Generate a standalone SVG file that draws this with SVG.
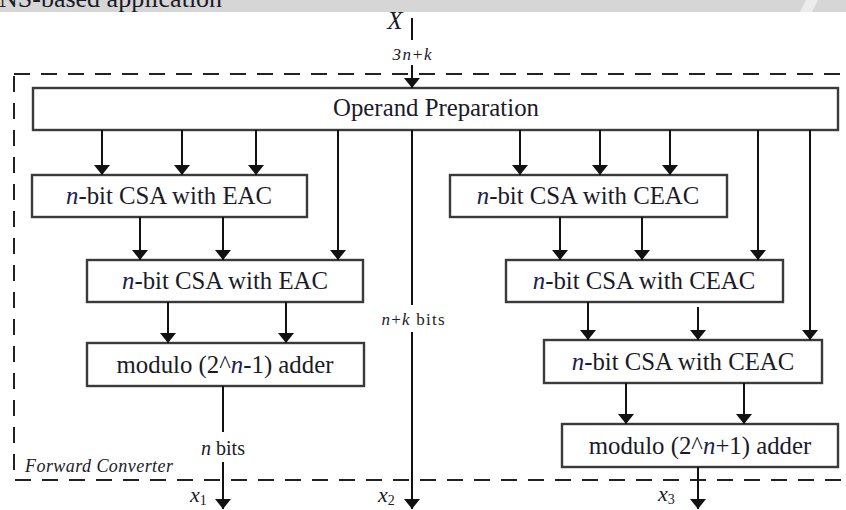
<svg xmlns="http://www.w3.org/2000/svg" width="846" height="510" viewBox="0 0 846 510" font-family="Liberation Serif, serif">
<style>
.box{fill:#fff;stroke:#3a3a3a;stroke-width:2.4}
.lbl{font-family:"Liberation Serif",serif;font-size:24.8px;fill:#1a1a28;text-anchor:middle}
.it{font-style:italic;fill:#202050}
.sm{font-family:"Liberation Serif",serif;fill:#1a1a28}
.ln{stroke:#111;stroke-width:2;fill:none}
.ar{stroke:#111;stroke-width:2;fill:none;marker-end:url(#ah)}
</style>
<defs>
<marker id="ah" viewBox="0 -8 10 16" refX="10" refY="0" markerWidth="10" markerHeight="16" markerUnits="userSpaceOnUse" orient="auto">
<path d="M0,-8 L10,0 L0,8 z" fill="#111"/>
</marker>
</defs>
<rect width="846" height="510" fill="#fff"/>
<g id="header">
<rect x="0" y="0" width="846" height="12" fill="#d6d6d6"/>
<polygon points="806,0 818,0 812,12 800,12" fill="#ececec"/>
<text x="-1" y="7" class="sm" font-size="26">NS-based application</text>
</g>
<g id="frame">
<rect x="14" y="74" width="845" height="406" fill="none" stroke="#222" stroke-width="2" stroke-dasharray="16 11"/>
<text x="25" y="472" class="sm" font-size="18" font-style="italic" textLength="148">Forward Converter</text>
</g>
<g id="op">
<rect class="box" x="33" y="88" width="805" height="42"/>
<text class="lbl" x="436" y="116">Operand Preparation</text>
</g>
<g id="csa1">
<rect class="box" x="32" y="175" width="275" height="42"/>
<text class="lbl" x="169" y="204"><tspan class="it">n</tspan>-bit CSA with EAC</text>
</g>
<g id="csa2">
<rect class="box" x="87" y="260" width="276" height="42"/>
<text class="lbl" x="225" y="289"><tspan class="it">n</tspan>-bit CSA with EAC</text>
</g>
<g id="mod1">
<rect class="box" x="87" y="343" width="277" height="43"/>
<text class="lbl" x="225" y="373">modulo (2^<tspan class="it">n</tspan>-1) adder</text>
</g>
<g id="csa3">
<rect class="box" x="450" y="175" width="277" height="42"/>
<text class="lbl" x="588" y="204"><tspan class="it">n</tspan>-bit CSA with CEAC</text>
</g>
<g id="csa4">
<rect class="box" x="506" y="260" width="277" height="42"/>
<text class="lbl" x="644" y="289"><tspan class="it">n</tspan>-bit CSA with CEAC</text>
</g>
<g id="csa5">
<rect class="box" x="544" y="340" width="278" height="43"/>
<text class="lbl" x="683" y="370"><tspan class="it">n</tspan>-bit CSA with CEAC</text>
</g>
<g id="mod2">
<rect class="box" x="562" y="424" width="276" height="43"/>
<text class="lbl" x="700" y="454">modulo (2^<tspan class="it">n</tspan>+1) adder</text>
</g>
<g id="labels">
<text x="395" y="29" class="sm" font-size="25" font-style="italic" text-anchor="middle" fill="#202050">X</text>
<text x="412" y="60" class="sm" font-size="17" text-anchor="middle" textLength="39"><tspan font-style="italic">3n</tspan>+<tspan font-style="italic">k</tspan></text>
<text x="413" y="325" class="sm" font-size="17" text-anchor="middle" textLength="63"><tspan font-style="italic">n</tspan>+<tspan font-style="italic">k</tspan> bits</text>
<text x="223" y="455" class="sm" font-size="20" text-anchor="middle"><tspan font-style="italic">n</tspan> bits</text>
<text x="190" y="502" class="sm" font-size="22" font-style="italic">x<tspan font-size="14" dy="3" font-style="normal">1</tspan></text>
<text x="378" y="502" class="sm" font-size="22" font-style="italic">x<tspan font-size="14" dy="3" font-style="normal">2</tspan></text>
<text x="658" y="501" class="sm" font-size="22" font-style="italic">x<tspan font-size="14" dy="3" font-style="normal">3</tspan></text>
</g>
<g id="connectors">
<line class="ln" x1="412" y1="18" x2="412" y2="40"/>
<line class="ar" x1="412" y1="65" x2="412" y2="88"/>
<line class="ar" x1="102" y1="130" x2="102" y2="175"/>
<line class="ar" x1="182" y1="130" x2="182" y2="175"/>
<line class="ar" x1="256" y1="130" x2="256" y2="175"/>
<line class="ar" x1="338" y1="130" x2="338" y2="260"/>
<line class="ar" x1="140" y1="217" x2="140" y2="260"/>
<line class="ar" x1="223" y1="217" x2="223" y2="260"/>
<line class="ar" x1="168" y1="302" x2="168" y2="343"/>
<line class="ar" x1="286" y1="302" x2="286" y2="343"/>
<line class="ln" x1="223" y1="386" x2="223" y2="432"/>
<line class="ar" x1="223" y1="462" x2="223" y2="509"/>
<line class="ln" x1="412" y1="130" x2="412" y2="305"/>
<line class="ar" x1="412" y1="332" x2="412" y2="509"/>
<line class="ar" x1="520" y1="130" x2="520" y2="175"/>
<line class="ar" x1="600" y1="130" x2="600" y2="175"/>
<line class="ar" x1="670" y1="130" x2="670" y2="175"/>
<line class="ar" x1="758" y1="130" x2="758" y2="260"/>
<line class="ar" x1="810" y1="130" x2="810" y2="340"/>
<line class="ar" x1="560" y1="217" x2="560" y2="260"/>
<line class="ar" x1="642" y1="217" x2="642" y2="260"/>
<line class="ar" x1="588" y1="302" x2="588" y2="340"/>
<line class="ar" x1="698" y1="307" x2="698" y2="340"/>
<line class="ar" x1="626" y1="383" x2="626" y2="424"/>
<line class="ar" x1="744" y1="383" x2="744" y2="424"/>
<line class="ar" x1="698" y1="467" x2="698" y2="509"/>
</g>
</svg>
